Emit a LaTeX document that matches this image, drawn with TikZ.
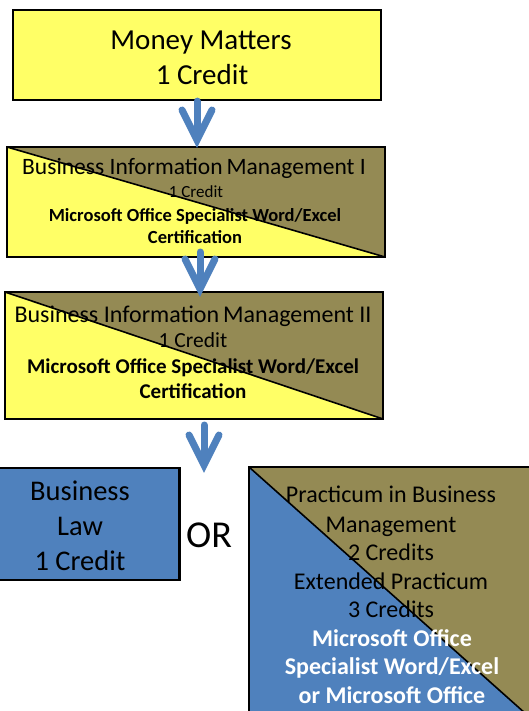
\documentclass[tikz,border=0pt]{standalone}
\usepackage{fontspec}
\setmainfont{Carlito}
\usetikzlibrary{calc}
\definecolor{boxyellow}{HTML}{FFFF66}
\definecolor{boxolive}{HTML}{948A54}
\definecolor{boxblue}{HTML}{4F81BD}
\tikzset{
  plainbox/.style={draw=black, line width=2.2pt, fill=#1, rectangle, inner sep=0pt},
  splitbox/.style 2 args={draw=black, line width=2.2pt, fill=#1, rectangle, inner sep=0pt,
    path picture={
      \fill[#2] (path picture bounding box.north west) -- (path picture bounding box.north east)
        -- (path picture bounding box.south east) -- cycle;
      \draw[black, line width=1.6pt] (path picture bounding box.north west) -- (path picture bounding box.south east);
    }},
  txt/.style={anchor=base, inner sep=0pt, text=black},
  flowline/.style={draw=boxblue, line width=7pt, line cap=round, line join=miter},
}
\newcommand\flowarrow[2]{%
  \draw[flowline] (#1) -- ($(#2)+(0,-4)$);
  \draw[flowline] ($(#2)+(-15,-30)$) -- (#2) -- ($(#2)+(15,-30)$);}
\begin{document}
\begin{tikzpicture}[x=1pt, y=-1pt]
\useasboundingbox (0,0) rectangle (529,711);
% boxes
\node[plainbox=boxyellow, minimum width=368pt, minimum height=90pt] (mm) at (197,55) {};
\node[splitbox={boxyellow}{boxolive}, minimum width=378pt, minimum height=110pt] (bim1) at (196,202) {};
\node[splitbox={boxyellow}{boxolive}, minimum width=378pt, minimum height=127pt] (bim2) at (194,355.5) {};
\node[plainbox=boxblue, minimum width=183pt, minimum height=112pt] (law) at (88,524) {};
\node[splitbox={boxblue}{boxolive}, minimum width=286pt, minimum height=255pt] (prac) at (392,594.5) {};
% texts
\node[txt, font=\fontsize{29}{34}\selectfont] (mmt1) at (201,50) {Money Matters};
\node[txt, font=\fontsize{29}{34}\selectfont] (mmt2) at (202,85) {1 Credit};

\node[txt, font=\fontsize{23.5}{28}\selectfont] (b1t1) at (194,175) {Business Information\,Management I};
\node[txt, font=\fontsize{17}{20}\selectfont] (b1t2) at (196,198) {1 Credit};
\node[txt, font=\fontsize{18.5}{22}\selectfont\bfseries] (b1t3) at (195,222) {Microsoft Office Specialist Word/Excel};
\node[txt, font=\fontsize{18.5}{22}\selectfont\bfseries] (b1t4) at (195,243) {Certification};

\node[txt, font=\fontsize{24}{29}\selectfont] (b2t1) at (193,322) {Business Information\,Management II};
\node[txt, font=\fontsize{21.5}{26}\selectfont] (b2t2) at (193,347) {1 Credit};
\node[txt, font=\fontsize{21}{25}\selectfont\bfseries] (b2t3) at (193,373) {Microsoft Office Specialist Word/Excel};
\node[txt, font=\fontsize{21}{25}\selectfont\bfseries] (b2t4) at (193,398) {Certification};

\node[txt, font=\fontsize{28.5}{34}\selectfont] (lt1) at (80,500) {Business};
\node[txt, font=\fontsize{28.5}{34}\selectfont] (lt2) at (80,535) {Law};
\node[txt, font=\fontsize{28.5}{34}\selectfont] (lt3) at (80,570) {1 Credit};

\node[txt, font=\fontsize{38}{46}\selectfont] (or) at (209,547) {OR};

\node[txt, font=\fontsize{24}{29}\selectfont] (p1) at (391,502) {Practicum in Business};
\node[txt, font=\fontsize{24}{29}\selectfont] (p2) at (391,532) {Management};
\node[txt, font=\fontsize{24}{29}\selectfont] (p3) at (391,560) {2 Credits};
\node[txt, font=\fontsize{24}{29}\selectfont] (p4) at (391,589) {Extended Practicum};
\node[txt, font=\fontsize{24}{29}\selectfont] (p5) at (391,617) {3 Credits};
\node[txt, text=white, font=\fontsize{24}{29}\selectfont\bfseries] (p6) at (392,646) {Microsoft Office};
\node[txt, text=white, font=\fontsize{24}{29}\selectfont\bfseries] (p7) at (392,674) {Specialist Word/Excel};
\node[txt, text=white, font=\fontsize{24}{29}\selectfont\bfseries] (p8) at (392,703) {or Microsoft Office};
% arrow end points
\coordinate (a1s) at (mm.south -| 197,0);
\coordinate (a1e) at (197,140);
\coordinate (a2s) at (200,252);
\coordinate (a2e) at (200,289);
\coordinate (a3s) at (204,425);
\coordinate (a3e) at (204,465);
\flowarrow{a1s}{a1e}
\flowarrow{a2s}{a2e}
\flowarrow{a3s}{a3e}
\end{tikzpicture}
\end{document}
